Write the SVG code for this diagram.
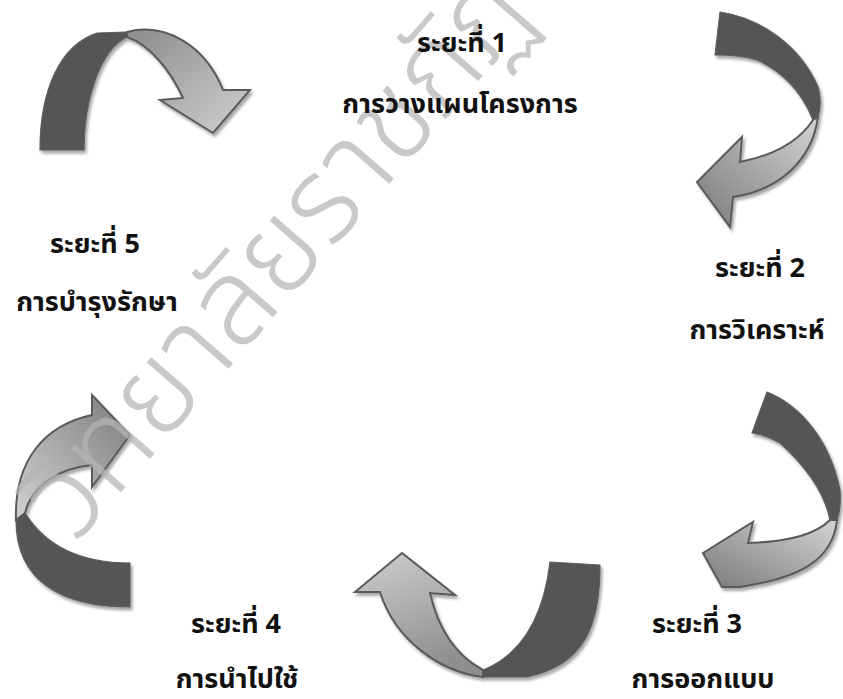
<svg xmlns="http://www.w3.org/2000/svg" width="843" height="699" viewBox="0 0 843 699">
<style>
.lbl{font-family:Tahoma,"Noto Sans Thai","Noto Sans",sans-serif;font-weight:bold;font-size:27px;fill:#111;text-anchor:middle}
.dark{fill:#555;stroke:#5e5e5e;stroke-width:1.2;stroke-linejoin:round}
.light{stroke:#5a5a5a;stroke-width:2;stroke-linejoin:miter}
.wm{font-family:"Noto Sans Thai","Noto Sans",sans-serif;font-weight:300;font-size:120px;fill:#b4b4b4;fill-opacity:0.72}
</style>
<defs>
<filter id="sh" x="-20%" y="-20%" width="140%" height="140%">
<feDropShadow dx="2" dy="3" stdDeviation="1.5" flood-color="#000" flood-opacity="0.35"/>
</filter>
<linearGradient id="gA" x1="0" y1="0" x2="1" y2="1"><stop offset="0" stop-color="#8c8c8c"/><stop offset="1" stop-color="#d0d0d0"/></linearGradient>
<linearGradient id="gB" x1="0" y1="1" x2="1" y2="0"><stop offset="0" stop-color="#7a7a7a"/><stop offset="1" stop-color="#d4d4d4"/></linearGradient>
<linearGradient id="gD" x1="0" y1="0" x2="0.4" y2="1"><stop offset="0" stop-color="#cfcfcf"/><stop offset="1" stop-color="#8f8f8f"/></linearGradient>
<linearGradient id="gE" x1="0" y1="1" x2="1" y2="0"><stop offset="0" stop-color="#d2d2d2"/><stop offset="1" stop-color="#7c7c7c"/></linearGradient>
</defs>
<g id="connectors">
<g id="arrow-5-1" filter="url(#sh)">
<path class="dark" d="M40,150 C40,90 60,45 97,33 L127,32 L127,37 C100,50 84,100 84,150 Z"/>
<path class="light" fill="url(#gA)" d="M127,32 C165,22 205,45 223,90 L250,90 L213,133 L160,100 L183,98 C170,70 150,45 127,37 Z"/>
</g>
<g id="arrow-1-2" filter="url(#sh)">
<path class="dark" d="M720,12 C760,18 800,45 818,87 C822,100 820,110 818,117 L813,120 C805,100 790,75 757,60 C740,55 725,55 715,55 Z"/>
<path class="light" fill="url(#gB)" d="M818,117 C812,160 780,190 733,197 L730,227 L697,182 L742,137 L740,162 C775,155 800,140 813,120 Z"/>
</g>
<g id="arrow-2-3" filter="url(#sh)">
<path class="dark" d="M767,392 C800,405 830,440 840,490 C841,505 839,515 837,520 L830,520 C825,495 810,470 780,443 C770,437 760,434 752,433 Z"/>
<path class="light" fill="url(#gB)" d="M837,520 C833,560 800,578 740,587 L722,587 L703,553 L753,522 L748,543 C785,542 815,535 830,520 Z"/>
</g>
<g id="arrow-3-4" filter="url(#sh)">
<path class="dark" d="M600,565 C600,625 585,665 527,677 L483,677 L483,670 C520,655 543,620 550,562 Z"/>
<path class="light" fill="url(#gD)" d="M483,677 C440,672 395,640 380,592 L355,592 L402,553 L455,595 L430,593 C438,628 455,655 483,670 Z"/>
</g>
<g id="arrow-4-5" filter="url(#sh)">
<path class="dark" d="M16,520 C16,580 60,607 130,607 L130,563 C80,563 45,545 25,513 Z"/>
<path class="light" fill="url(#gE)" d="M92,415 L92,395 L130,435 L92,487 L92,465 C60,468 32,485 25,513 L16,520 C14,460 45,425 92,415 Z"/>
</g>
</g>
<text class="wm" transform="translate(75,545) rotate(-49)">วิทยาลัยราชภัฏ</text>
<g id="node-1"><text class="lbl" x="462" y="52">ระยะที่ 1</text><text class="lbl" x="460" y="113">การวางแผนโครงการ</text></g>
<g id="node-2"><text class="lbl" x="760" y="277">ระยะที่ 2</text><text class="lbl" x="757" y="339">การวิเคราะห์</text></g>
<g id="node-3"><text class="lbl" x="697" y="633">ระยะที่ 3</text><text class="lbl" x="703" y="688">การออกแบบ</text></g>
<g id="node-4"><text class="lbl" x="236" y="633">ระยะที่ 4</text><text class="lbl" x="237" y="688">การนำไปใช้</text></g>
<g id="node-5"><text class="lbl" x="95" y="253">ระยะที่ 5</text><text class="lbl" x="97" y="311">การบำรุงรักษา</text></g>
</svg>
